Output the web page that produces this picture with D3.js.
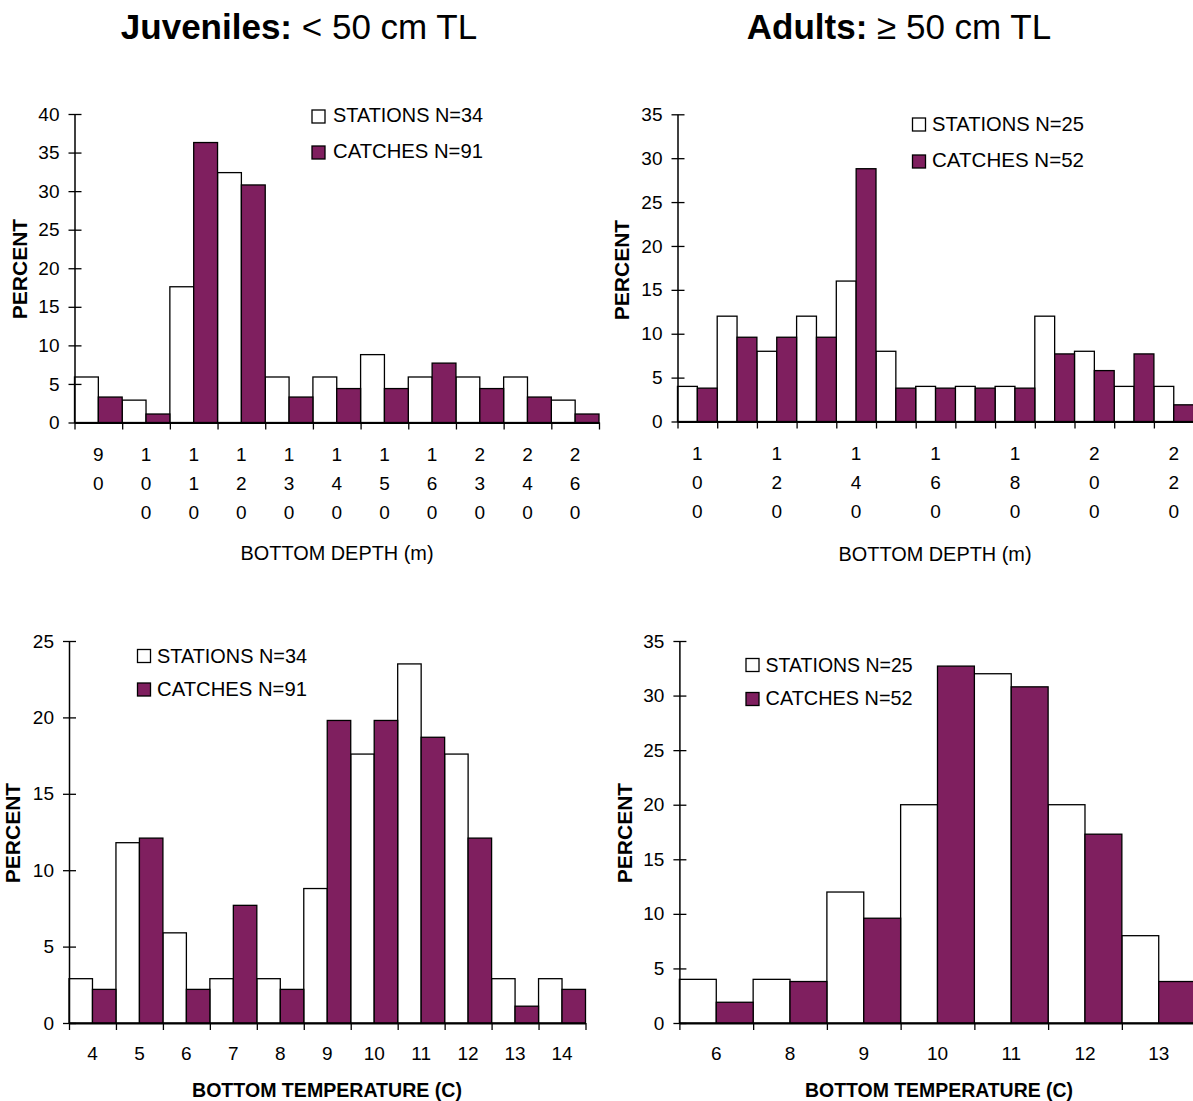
<!DOCTYPE html>
<html><head><meta charset="utf-8">
<script src="https://cdn.jsdelivr.net/npm/d3@7"></script>
<style>
body{margin:0;background:#fff}
svg{display:block}
text{font-family:"Liberation Sans",Arial,sans-serif;fill:#000}
</style>
</head><body>
<svg id="c" width="1193" height="1101"></svg>
<script>
// ---------- DATA ----------
const titles = [["Juveniles:", " < 50 cm TL"], ["Adults:", " \u2265 50 cm TL"]];
const seriesNames = ["STATIONS", "CATCHES"];

const depthJuvCats = ["90","100","110","120","130","140","150","160","230","240","260"];
const depthJuvLabels = ["90","100","110","120","130","140","150","160","230","240","260"];
const depthJuvStations = [5.9, 2.9, 17.6, 32.4, 5.9, 5.9, 8.8, 5.9, 5.9, 5.9, 2.9];
const depthJuvCatches = [3.3, 1.1, 36.3, 30.8, 3.3, 4.4, 4.4, 7.7, 4.4, 3.3, 1.1];
const depthJuvN = [34, 91];

const depthAdCats = ["100","110","120","130","140","150","160","170","180","190","200","210","220"];
const depthAdLabels = ["100","","120","","140","","160","","180","","200","","220"];
const depthAdStations = [4, 12, 8, 12, 16, 8, 4, 4, 4, 12, 8, 4, 4];
const depthAdCatches = [3.8, 9.6, 9.6, 9.6, 28.8, 3.8, 3.8, 3.8, 3.8, 7.7, 5.8, 7.7, 1.9];
const depthAdN = [25, 52];

const tempJuvCats = ["4","5","6","7","8","9","10","11","12","13","14"];
const tempJuvStations = [2.9, 11.8, 5.9, 2.9, 2.9, 8.8, 17.6, 23.5, 17.6, 2.9, 2.9];
const tempJuvCatches = [2.2, 12.1, 2.2, 7.7, 2.2, 19.8, 19.8, 18.7, 12.1, 1.1, 2.2];
const tempJuvN = [34, 91];

const tempAdCats = ["6","8","9","10","11","12","13"];
const tempAdStations = [4, 4, 12, 20, 32, 20, 8];
const tempAdCatches = [1.9, 3.8, 9.6, 32.7, 30.8, 17.3, 3.8];
const tempAdN = [25, 52];

const yTicksDepthJuv = [0,5,10,15,20,25,30,35,40];
const yTicks35 = [0,5,10,15,20,25,30,35];
const yTicks25 = [0,5,10,15,20,25];

// ---------- DRAWING ----------
const svg = d3.select("#c");
const PURPLE = "#7F1F5F";
const FONT = '"Liberation Sans", Arial, sans-serif';

// Titles
[[299, titles[0]], [899, titles[1]]].forEach(([cx, t]) => {
  const tx = svg.append("text").attr("x", cx).attr("y", 39).attr("text-anchor", "middle").attr("font-size", 35);
  tx.append("tspan").attr("font-weight", "bold").text(t[0]);
  tx.append("tspan").text(t[1]);
});

function drawChart(o) {
  const g = svg.append("g");
  const x = d3.scaleBand().domain(o.cats).range([o.x0, o.x1]).paddingInner(0).paddingOuter(0);
  const y = d3.scaleLinear().domain([0, o.yMax]).range([o.y0, o.yTop]);
  const bw = x.bandwidth() / 2;

  // bars
  g.selectAll("rect.st").data(o.cats).join("rect").attr("class", "st")
    .attr("x", c => x(c)).attr("width", bw)
    .attr("y", (c, i) => y(o.stations[i])).attr("height", (c, i) => y(0) - y(o.stations[i]))
    .attr("fill", "#fff").attr("stroke", "#000").attr("stroke-width", 1.3);
  g.selectAll("rect.ca").data(o.cats).join("rect").attr("class", "ca")
    .attr("x", c => x(c) + bw).attr("width", bw)
    .attr("y", (c, i) => y(o.catches[i])).attr("height", (c, i) => y(0) - y(o.catches[i]))
    .attr("fill", PURPLE).attr("stroke", "#000").attr("stroke-width", 1.3);

  // y axis
  const ya = g.append("g").attr("transform", `translate(${o.x0},0)`)
    .call(d3.axisLeft(y).tickValues(o.yTicks).tickSize(5).tickSizeOuter(0).tickPadding(10));
  ya.attr("font-family", FONT).attr("font-size", 19);
  ya.select(".domain").attr("stroke", "#000").attr("stroke-width", 1.5);
  ya.selectAll(".tick line").attr("x1", 7).attr("x2", -6).attr("stroke", "#000").attr("stroke-width", 1.3);
  ya.selectAll(".tick text").attr("fill", "#000");

  // x axis (boundary ticks)
  const xb = d3.scaleLinear().domain([0, o.cats.length]).range([o.x0, o.x1]);
  const xa = g.append("g").attr("transform", `translate(0,${o.y0})`)
    .call(d3.axisBottom(xb).tickValues(d3.range(0, o.cats.length + 1)).tickSize(7).tickSizeOuter(0).tickFormat(""));
  xa.select(".domain").attr("stroke", "#000").attr("stroke-width", 2);
  xa.selectAll(".tick line").attr("stroke", "#000").attr("stroke-width", 1.3);

  // category labels
  const lab = g.selectAll("text.xl").data(o.cats).join("text").attr("class", "xl")
    .attr("text-anchor", "middle").attr("font-size", 19);
  if (o.stack) {
    lab.each(function (c, i) {
      const s = o.labels[i];
      const t = d3.select(this);
      s.split("").forEach((ch, k) => {
        t.append("tspan").attr("x", x(c) + x.bandwidth() / 2).attr("y", o.y0 + 38 + k * 29.3).text(ch);
      });
    });
  } else {
    lab.attr("x", c => x(c) + x.bandwidth() / 2).attr("y", o.y0 + 37).text((c, i) => o.labels[i]);
  }

  // axis titles
  g.append("text").attr("x", o.title.x).attr("y", o.title.y).attr("text-anchor", "middle")
    .attr("font-size", 20).attr("font-weight", o.title.bold ? "bold" : "normal")
    .attr("textLength", o.title.tw).attr("lengthAdjust", "spacingAndGlyphs")
    .text(o.title.text);
  g.append("text").attr("transform", `translate(${o.pct.x},${o.pct.y}) rotate(-90)`)
    .attr("text-anchor", "middle").attr("font-size", 21).attr("font-weight", "bold").text("PERCENT");

  // legend
  const L = o.legend;
  [0, 1].forEach(k => {
    g.append("rect").attr("x", L.sx).attr("y", k ? L.sy2 : L.sy1).attr("width", 13).attr("height", 13)
      .attr("fill", k ? PURPLE : "#fff").attr("stroke", "#000").attr("stroke-width", 1.3);
    g.append("text").attr("x", L.tx).attr("y", k ? L.tb2 : L.tb1).attr("font-size", 21)
      .attr("textLength", L.tw).attr("lengthAdjust", "spacingAndGlyphs")
      .text(`${seriesNames[k]} N=${o.n[k]}`);
  });
}

drawChart({
  cats: depthJuvCats, labels: depthJuvLabels, stations: depthJuvStations, catches: depthJuvCatches, n: depthJuvN,
  x0: 74.5, x1: 599, y0: 422.5, yTop: 114, yMax: 40, yTicks: yTicksDepthJuv, stack: true,
  legend: {sx: 312, sy1: 110, sy2: 146, tx: 333, tb1: 122, tb2: 157.5, tw: 150},
  pct: {x: 27, y: 269}, title: {x: 337, y: 559.5, text: "BOTTOM DEPTH (m)", bold: false, tw: 193}
});
drawChart({
  cats: depthAdCats, labels: depthAdLabels, stations: depthAdStations, catches: depthAdCatches, n: depthAdN,
  x0: 677.5, x1: 1193.6, y0: 421.5, yTop: 114.3, yMax: 35, yTicks: yTicks35, stack: true,
  legend: {sx: 912.5, sy1: 118, sy2: 155, tx: 932, tb1: 130.7, tb2: 167.3, tw: 152},
  pct: {x: 628.5, y: 270}, title: {x: 935, y: 560.5, text: "BOTTOM DEPTH (m)", bold: false, tw: 193}
});
drawChart({
  cats: tempJuvCats, labels: tempJuvCats, stations: tempJuvStations, catches: tempJuvCatches, n: tempJuvN,
  x0: 69, x1: 585.5, y0: 1023, yTop: 641, yMax: 25, yTicks: yTicks25, stack: false,
  legend: {sx: 137.5, sy1: 649.5, sy2: 683, tx: 157, tb1: 662.7, tb2: 696, tw: 150},
  pct: {x: 19.5, y: 833}, title: {x: 327, y: 1096.5, text: "BOTTOM TEMPERATURE (C)", bold: true, tw: 270}
});
drawChart({
  cats: tempAdCats, labels: tempAdCats, stations: tempAdStations, catches: tempAdCatches, n: tempAdN,
  x0: 679.4, x1: 1195.6, y0: 1023, yTop: 641, yMax: 35, yTicks: yTicks35, stack: false,
  legend: {sx: 746, sy1: 658.5, sy2: 692.5, tx: 765.6, tb1: 671.7, tb2: 705, tw: 147},
  pct: {x: 631.5, y: 833}, title: {x: 939, y: 1096.5, text: "BOTTOM TEMPERATURE (C)", bold: true, tw: 268}
});
</script>
</body></html>
